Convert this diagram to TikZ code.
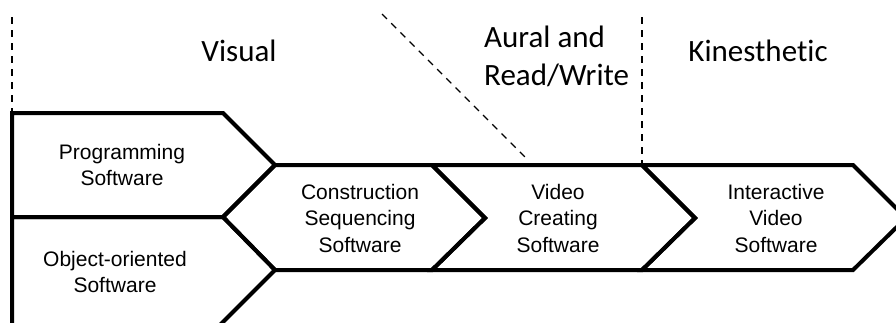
\documentclass[tikz,border=0pt]{standalone}
\usepackage{fontspec}
\setmainfont{Liberation Sans}
\newfontfamily\headfont[Ligatures=NoCommon]{Carlito}
\begin{document}
\begin{tikzpicture}[x=1pt, y=-1pt,
    chev/.style={line width=4pt, line join=miter},
    boxtext/.style={font=\fontsize{21}{26.5}\selectfont, align=center, inner sep=0pt},
    headtext/.style={font=\headfont\fontsize{31}{38}\selectfont, inner sep=0pt},
    divider/.style={line width=1.2pt, dash pattern=on 7pt off 6pt}]
    \useasboundingbox (0,0) rectangle (896,322);
    \clip (0,0) rectangle (896,322);

    % dashed dividers between the learning styles
    \draw[divider] (12,17) -- (12,113);
    \draw[divider] (382,14) -- (525,157);
    \draw[divider] (642,17) -- (642,165);

    % headings
    \node[headtext] (visual) at (239,51) {Visual};
    \node[headtext, align=left, anchor=west] (aural) at (484,56) {Aural and\\Read/Write};
    \node[headtext] (kin) at (758,51) {Kinesthetic};

    % left column
    \draw[chev] (12,113) -- (223,113) -- (275,165) -- (223,217) -- (12,217) -- cycle;
    \draw[chev] (12,340) -- (12,217) -- (223,217) -- (275,270) -- (205,340);

    % main row of chevrons
    \draw[chev] (275,165) -- (432,165) -- (485,218) -- (432,270) -- (275,270) -- (223,217) -- cycle;
    \draw[chev] (432,165) -- (642,165) -- (695,218) -- (642,270) -- (432,270) -- (485,218) -- cycle;
    \draw[chev] (642,165) -- (853,165) -- (906,218) -- (853,270) -- (642,270) -- (695,218) -- cycle;

    % labels
    \node[boxtext] (prog) at (122,165) {Programming\\Software};
    \node[boxtext] (oop) at (115,272) {Object-oriented\\Software};
    \node[boxtext] (cons) at (360,218) {Construction\\Sequencing\\Software};
    \node[boxtext] (video) at (558,218) {Video\\Creating\\Software};
    \node[boxtext] (inter) at (776,218) {Interactive\\Video\\Software};
\end{tikzpicture}
\end{document}
